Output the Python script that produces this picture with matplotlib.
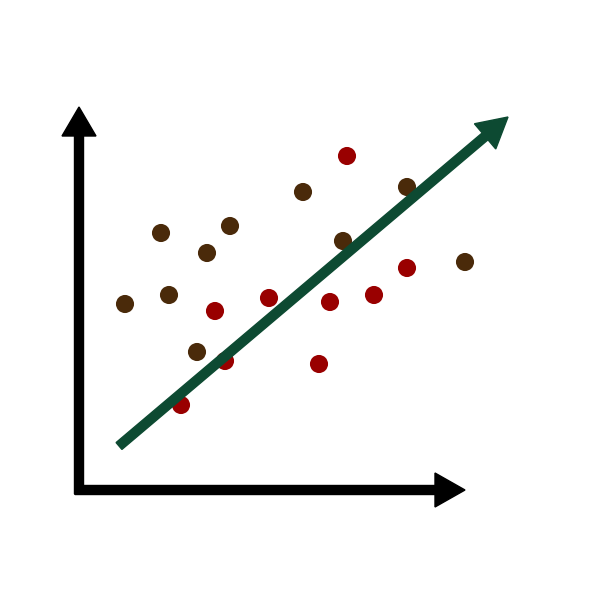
import matplotlib
matplotlib.use("Agg")
import matplotlib.pyplot as plt

# Scatter data (image-space coordinates, y grows downward)
brown_x = [125, 161, 169, 207, 230, 197, 303, 343, 407, 465]
brown_y = [304, 233, 295, 253, 226, 352, 192, 241, 187, 262]
red_x = [347, 215, 269, 225, 181, 319, 330, 374, 407]
red_y = [156, 311, 298, 361, 405, 364, 302, 295, 268]

# Trend line endpoints
trend_x = [119, 508]
trend_y = [446, 117]

BROWN = "#4a2a0a"
RED = "#990000"
GREEN = "#0d4a32"

fig = plt.figure(figsize=(6, 6), dpi=100)
ax = fig.add_axes([0, 0, 1, 1])
ax.set_xlim(0, 600)
ax.set_ylim(600, 0)
ax.set_aspect("equal")
ax.axis("off")

ax.scatter(brown_x, brown_y, s=170, color=BROWN, edgecolors="none", zorder=2)
ax.scatter(red_x, red_y, s=170, color=RED, edgecolors="none", zorder=2)

# Axes arrows
ax.arrow(79, 494, 0, 107 - 494, width=9, head_width=34, head_length=29,
         length_includes_head=True, color="black", zorder=1)
ax.arrow(75, 490, 465 - 75, 0, width=9, head_width=34, head_length=30,
         length_includes_head=True, color="black", zorder=1)

# Trend arrow
ax.arrow(trend_x[0], trend_y[0], trend_x[1] - trend_x[0], trend_y[1] - trend_y[0],
         width=9, head_width=33, head_length=30, length_includes_head=True,
         color=GREEN, zorder=3)

fig.savefig("out.png", dpi=100, facecolor="white")
